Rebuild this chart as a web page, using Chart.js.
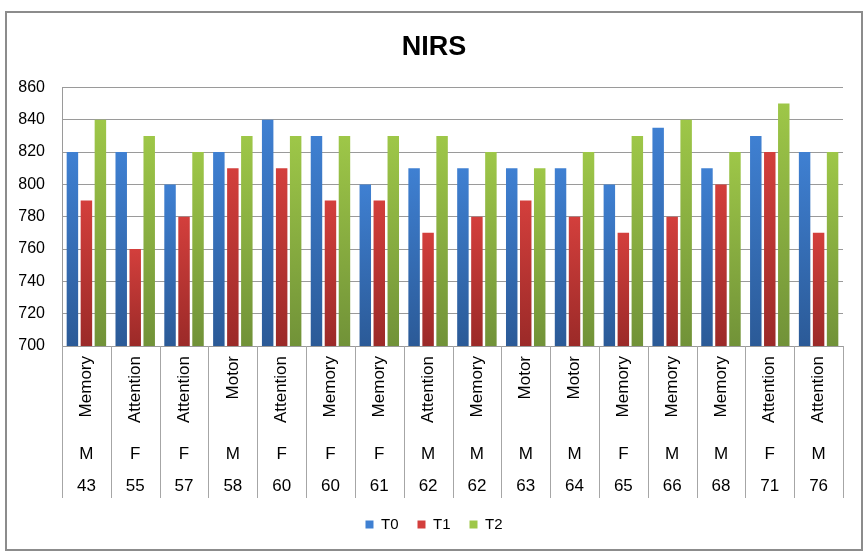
<!DOCTYPE html>
<html>
<head>
<meta charset="utf-8">
<script src="https://cdn.jsdelivr.net/npm/chart.js@4"></script>
<style>
  html,body{margin:0;padding:0;background:#fff;}
  #wrap{position:relative;width:868px;height:559px;}
  #frame{position:absolute;left:5px;top:11px;width:854px;height:536px;border:2px solid #8c8c8c;pointer-events:none;}
</style>
</head>
<body>
<div id="wrap">
  <canvas id="nirs" width="868" height="559"></canvas>
  <div id="frame"></div>
</div>
<script>
const training=['Memory','Attention','Attention','Motor','Attention','Memory','Memory','Attention','Memory','Motor','Motor','Memory','Memory','Memory','Attention','Attention'];
const sex=['M','F','F','M','F','F','F','M','M','M','M','F','M','M','F','M'];
const age=['43','55','57','58','60','60','61','62','62','63','64','65','66','68','71','76'];
const t0=[820,820,800,820,840,830,800,810,810,810,810,800,835,810,830,820];
const t1=[790,760,780,810,810,790,790,770,780,790,780,770,780,800,820,770];
const t2=[840,830,820,830,830,830,830,830,820,810,820,830,840,820,850,820];
const yTicks=[700,720,740,760,780,800,820,840,860];

const FONT="'Liberation Sans', Arial, sans-serif";

// vertical gradient per bar, from the bar top down to the axis
function barFill(top,bottom){
  return ctx=>{
    const ch=ctx.chart;
    const area=ch.chartArea;
    if(!area||ctx.raw==null) return top;
    const y0=ch.scales.y.getPixelForValue(ctx.raw);
    const g=ch.ctx.createLinearGradient(0,y0,0,area.bottom);
    g.addColorStop(0,top);
    g.addColorStop(1,bottom);
    return g;
  };
}

// separators between categories under the plot
const separators={
  id:'separators',
  afterDraw(chart){
    const x=chart.scales.x, x3=chart.scales.x3;
    const c=chart.ctx;
    c.save();
    c.strokeStyle='#a6a6a6';
    c.lineWidth=1;
    const top=chart.chartArea.bottom, bot=x3.bottom;
    const n=training.length;
    for(let i=0;i<=n;i++){
      let px;
      if(i===0) px=chart.chartArea.left;
      else if(i===n) px=chart.chartArea.right;
      else px=(x.getPixelForValue(i-1)+x.getPixelForValue(i))/2;
      px=Math.round(px)+0.5;
      c.beginPath();c.moveTo(px,top);c.lineTo(px,bot);c.stroke();
    }
    c.restore();
  }
};

new Chart(document.getElementById('nirs'),{
  type:'bar',
  data:{
    labels:training,
    datasets:[
      {label:'T0',data:t0,backgroundColor:barFill('#3f80d2','#2b5a97'),borderWidth:0,xAxisID:'x'},
      {label:'T1',data:t1,backgroundColor:barFill('#d33f3c','#9b2a28'),borderWidth:0,xAxisID:'x'},
      {label:'T2',data:t2,backgroundColor:barFill('#9ec748','#719238'),borderWidth:0,xAxisID:'x'}
    ]
  },
  options:{
    responsive:false,
    animation:false,
    categoryPercentage:0.86,
    barPercentage:0.82,
    layout:{padding:{left:2,right:2,top:0,bottom:17}},
    plugins:{
      title:{display:true,text:'NIRS',color:'#000',font:{family:FONT,size:27,weight:'bold'},padding:{top:31,bottom:24}},
      legend:{position:'bottom',labels:{boxWidth:8,boxHeight:8,font:{family:FONT,size:15},color:'#000',padding:19,
        generateLabels:ch=>['#3f80d2','#d33f3c','#9ec748'].map((col,i)=>({text:ch.data.datasets[i].label,fillStyle:col,strokeStyle:col,lineWidth:0,datasetIndex:i,hidden:false}))}},
      tooltip:{enabled:false}
    },
    scales:{
      y:{
        min:700,max:860,
        afterBuildTicks:s=>{s.ticks=yTicks.map(v=>({value:v}));},
        ticks:{font:{family:FONT,size:16},color:'#000',padding:17},
        grid:{color:'#9a9a9a',drawTicks:false},
        border:{display:true,color:'#9a9a9a'},
        afterFit:s=>{s.width=60;}
      },
      // empty right-hand spacer so the plot ends where the reference does
      yRight:{
        position:'right',
        ticks:{display:false},
        grid:{display:false,drawTicks:false},
        border:{display:false},
        afterFit:s=>{s.width=23;}
      },
      x:{
        position:'bottom',
        ticks:{font:{family:FONT,size:17},color:'#000',minRotation:90,maxRotation:90,autoSkip:false,padding:10},
        grid:{display:false,drawTicks:false},
        border:{display:false},
        afterFit:s=>{s.height=90;}
      },
      x2:{
        type:'category',position:'bottom',labels:sex,offset:true,
        ticks:{font:{family:FONT,size:17},color:'#000',autoSkip:false,maxRotation:0,padding:8},
        grid:{display:false,drawTicks:false},
        border:{display:false},
        afterFit:s=>{s.height=32;}
      },
      x3:{
        type:'category',position:'bottom',labels:age,offset:true,
        ticks:{font:{family:FONT,size:17},color:'#000',autoSkip:false,maxRotation:0,padding:8},
        grid:{display:false,drawTicks:false},
        border:{display:false},
        afterFit:s=>{s.height=30;}
      }
    }
  },
  plugins:[separators]
});
</script>
</body>
</html>
